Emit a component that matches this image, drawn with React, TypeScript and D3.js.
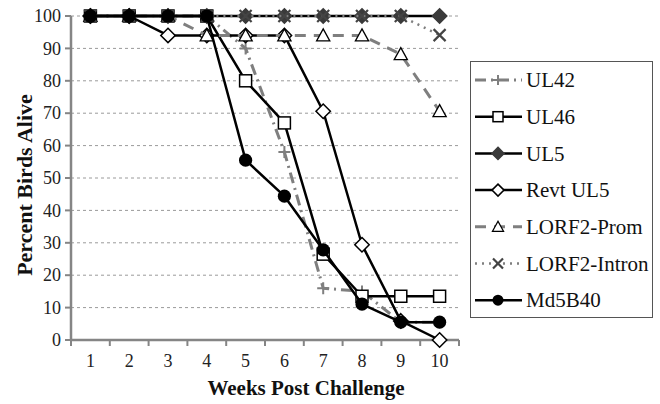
import React, { useEffect, useRef } from "react";
import * as d3 from "d3";

// weeks post challenge
const weeks = ["1", "2", "3", "4", "5", "6", "7", "8", "9", "10"];
const yTicks = [0, 10, 20, 30, 40, 50, 60, 70, 80, 90, 100];

// percent birds alive per virus
const ul42 = [100, 100, 100, 100, 90, 58, 16, 15, 5.5, 5.5];
const ul46 = [100, 100, 100, 100, 80, 67, 26.5, 13.5, 13.5, 13.5];
const ul5 = [100, 100, 100, 100, 100, 100, 100, 100, 100, 100];
const revtUl5 = [100, 100, 94, 94, 94, 94, 70.6, 29.4, 5.9, 0];
const lorf2Prom = [100, 100, 100, 94, 94, 94, 94, 94, 88.2, 70.6];
const lorf2Intron = [100, 100, 100, 100, 100, 100, 100, 100, 100, 94.1];
const md5b40 = [100, 100, 100, 100, 55.5, 44.4, 27.8, 11.1, 5.5, 5.5];

const seriesNames = ["UL42", "UL46", "UL5", "Revt UL5", "LORF2-Prom", "LORF2-Intron", "Md5B40"];

const styles: any = {
  "UL42": { stroke: "#7f7f7f", width: 3, dash: "11,5,2,5", marker: "plus" },
  "UL46": { stroke: "#000", width: 2.5, dash: null, marker: "square" },
  "UL5": { stroke: "#000", width: 2.5, dash: null, marker: "diamondFill" },
  "Revt UL5": { stroke: "#000", width: 2.5, dash: null, marker: "diamond" },
  "LORF2-Prom": { stroke: "#7f7f7f", width: 3, dash: "11,8", marker: "triangle" },
  "LORF2-Intron": { stroke: "#7f7f7f", width: 2.5, dash: "2,5", marker: "cross" },
  "Md5B40": { stroke: "#000", width: 2.5, dash: null, marker: "circle" },
};

const font = "'Liberation Serif', 'Times New Roman', Times, 'DejaVu Serif', serif";

function drawMarker(g: any, type: string, x: number, y: number, s: number) {
  if (type === "square") {
    g.append("rect").attr("x", x - s).attr("y", y - s).attr("width", 2 * s).attr("height", 2 * s)
      .attr("fill", "#fff").attr("stroke", "#000").attr("stroke-width", 1.5);
  } else if (type === "diamondFill" || type === "diamond") {
    const d = s * 1.2;
    g.append("path").attr("d", `M${x},${y - d}L${x + d},${y}L${x},${y + d}L${x - d},${y}Z`)
      .attr("fill", type === "diamond" ? "#fff" : "#3a3a3a")
      .attr("stroke", type === "diamond" ? "#000" : "#3a3a3a").attr("stroke-width", 1.5);
  } else if (type === "triangle") {
    g.append("path").attr("d", `M${x},${y - s * 1.1}L${x + s * 1.1},${y + s * 0.9}L${x - s * 1.1},${y + s * 0.9}Z`)
      .attr("fill", "#fff").attr("stroke", "#000").attr("stroke-width", 1.3);
  } else if (type === "cross") {
    g.append("path").attr("d", `M${x - s},${y - s}L${x + s},${y + s}M${x - s},${y + s}L${x + s},${y - s}`)
      .attr("stroke", "#444").attr("stroke-width", 2.2).attr("fill", "none");
  } else if (type === "plus") {
    g.append("path").attr("d", `M${x - s},${y}L${x + s},${y}M${x},${y - s}L${x},${y + s}`)
      .attr("stroke", "#7f7f7f").attr("stroke-width", 2).attr("fill", "none");
  } else if (type === "circle") {
    g.append("circle").attr("cx", x).attr("cy", y).attr("r", s * 1.1).attr("fill", "#000");
  }
}

export default function App() {
  const ref = useRef<SVGSVGElement>(null);

  useEffect(() => {
    const svg = d3.select(ref.current);
    svg.selectAll("*").remove();

    const values = [ul42, ul46, ul5, revtUl5, lorf2Prom, lorf2Intron, md5b40];
    const left = 71, right = 459, top = 16, bottom = 340;

    const x = d3.scaleBand().domain(weeks).range([left, right]);
    const y = d3.scaleLinear().domain([0, 100]).range([bottom, top]);
    const cx = (w: string) => (x(w) as number) + x.bandwidth() / 2;

    // gridlines
    svg.append("g").selectAll("line").data(yTicks.filter(t => t > 0)).enter().append("line")
      .attr("x1", left).attr("x2", right).attr("y1", d => y(d)).attr("y2", d => y(d))
      .attr("stroke", "#9a9a9a").attr("stroke-width", 1).attr("stroke-dasharray", "3,3");

    // axes
    const ax = svg.append("g").attr("stroke", "#858585");
    ax.append("line").attr("x1", left).attr("x2", left).attr("y1", top).attr("y2", bottom + 1).attr("stroke-width", 2.5);
    ax.append("line").attr("x1", left - 1).attr("x2", right).attr("y1", bottom).attr("y2", bottom).attr("stroke-width", 2.5);
    ax.selectAll(".yt").data(yTicks).enter().append("line")
      .attr("x1", left - 6).attr("x2", left).attr("y1", d => y(d)).attr("y2", d => y(d)).attr("stroke-width", 2);
    const bounds = weeks.map(w => x(w) as number).concat([right]);
    ax.selectAll(".xt").data(bounds).enter().append("line")
      .attr("x1", d => d).attr("x2", d => d).attr("y1", bottom).attr("y2", bottom + 6).attr("stroke-width", 2);

    svg.append("g").selectAll("text").data(yTicks).enter().append("text")
      .attr("x", 61).attr("y", d => y(d)).attr("dy", "0.34em").attr("text-anchor", "end")
      .style("font-family", font).style("font-size", "18px").attr("fill", "#222").text(d => d);
    svg.append("g").selectAll("text").data(weeks).enter().append("text")
      .attr("x", d => cx(d)).attr("y", 367).attr("text-anchor", "middle")
      .style("font-family", font).style("font-size", "18px").attr("fill", "#222").text(d => d);

    svg.append("text").attr("transform", "translate(32,185) rotate(-90)").attr("text-anchor", "middle")
      .style("font-family", font).style("font-size", "22px").style("font-weight", "bold").attr("fill", "#111")
      .text("Percent Birds Alive");
    svg.append("text").attr("x", 306).attr("y", 395).attr("text-anchor", "middle")
      .style("font-family", font).style("font-size", "21px").style("font-weight", "bold").attr("fill", "#111")
      .text("Weeks Post Challenge");

    // series
    const line = d3.line<number>().x((_, i) => cx(weeks[i])).y(d => y(d));
    seriesNames.forEach((name, k) => {
      const st = styles[name];
      const g = svg.append("g");
      g.append("path").attr("d", line(values[k]) as string).attr("fill", "none")
        .attr("stroke", st.stroke).attr("stroke-width", st.width)
        .attr("stroke-dasharray", st.dash).attr("stroke-linejoin", "round");
      values[k].forEach((v, i) => drawMarker(g, st.marker, cx(weeks[i]), y(v), 6));
    });

    // legend
    const lg = svg.append("g");
    lg.append("rect").attr("x", 470.5).attr("y", 61.5).attr("width", 182).attr("height", 256)
      .attr("fill", "#fff").attr("stroke", "#555").attr("stroke-width", 1);
    seriesNames.forEach((name, k) => {
      const st = styles[name];
      const ly = 80 + k * 36.7;
      lg.append("line").attr("x1", 475).attr("x2", 522).attr("y1", ly).attr("y2", ly)
        .attr("stroke", st.stroke).attr("stroke-width", st.width).attr("stroke-dasharray", st.dash);
      drawMarker(lg, st.marker, 498, ly, 5);
      lg.append("text").attr("x", 526).attr("y", ly).attr("dy", "0.34em")
        .style("font-family", font).style("font-size", "21px").attr("fill", "#111").text(name);
    });
  }, []);

  return (
    <svg ref={ref} width={660} height={404}
      style={{ position: "absolute", left: 0, top: 0, background: "#fff" }} />
  );
}
